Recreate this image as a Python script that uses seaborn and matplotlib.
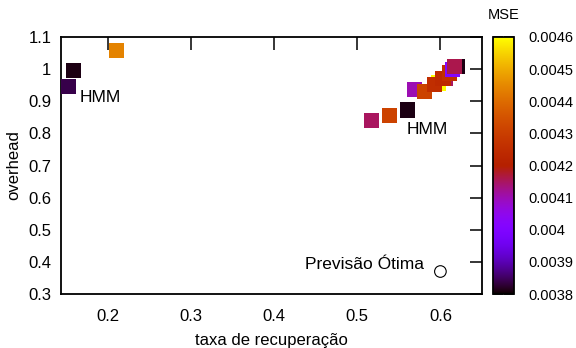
import numpy as np
import pandas as pd
import matplotlib
matplotlib.use("Agg")
import matplotlib.pyplot as plt
from matplotlib.colors import ListedColormap, Normalize
from matplotlib.cm import ScalarMappable
from matplotlib.ticker import FuncFormatter
import seaborn as sns

# Recovery rate / overhead / MSE for each configuration (drawn in this order)
taxa = [0.159, 0.153, 0.211,
        0.517, 0.539, 0.560, 0.569, 0.581, 0.598, 0.593,
        0.606, 0.603, 0.611, 0.615, 0.621, 0.617]
overhead = [0.996, 0.946, 1.057,
            0.839, 0.856, 0.873, 0.937, 0.931, 0.957, 0.953,
            0.971, 0.971, 0.988, 0.998, 1.009, 1.009]
mse = [0.00381, 0.00384, 0.00444,
       0.00415, 0.00431, 0.00381, 0.00410, 0.00431, 0.00460, 0.00425,
       0.00415, 0.00424, 0.00426, 0.00401, 0.00381, 0.00416]

# Optimal forecast reference point
otima_x = [0.600]
otima_y = [0.370]

x_ticks = [0.2, 0.3, 0.4, 0.5, 0.6]
y_ticks = [0.3, 0.4, 0.5, 0.6, 0.7, 0.8, 0.9, 1.0, 1.1]
cb_ticks = [0.0038, 0.0039, 0.0040, 0.0041, 0.0042, 0.0043, 0.0044, 0.0045, 0.0046]

df = pd.DataFrame({"taxa": taxa, "overhead": overhead, "mse": mse})

sns.set_style("white")
plt.rcParams["font.family"] = ["Liberation Sans", "DejaVu Sans"]
plt.rcParams["text.color"] = "black"
plt.rcParams["axes.labelcolor"] = "black"

# gnuplot default pm3d palette (rgbformulae 7,5,15)
g = np.linspace(0, 1, 256)
pal = np.stack([np.sqrt(g), g ** 3, np.clip(np.sin(2 * np.pi * g), 0, 1)], axis=1)
cmap = ListedColormap(pal)
norm = Normalize(vmin=0.0038, vmax=0.0046)

fig = plt.figure(figsize=(5.76, 3.48), dpi=100)
ax = fig.add_axes([61 / 576, 1 - 294 / 348, 421 / 576, 257 / 348])

sns.scatterplot(data=df, x="taxa", y="overhead", hue="mse", palette=cmap,
                hue_norm=norm, marker="s", s=120, linewidth=0, legend=False,
                ax=ax, zorder=3)
sns.scatterplot(x=otima_x, y=otima_y, marker="o", s=70, facecolor="none",
                edgecolor="black", linewidth=0.8, ax=ax, zorder=3)

ax.text(0.166, 0.912, "HMM", fontsize=12.5, va="center", ha="left")
ax.text(0.559, 0.811, "HMM", fontsize=12.5, va="center", ha="left")
ax.text(0.580, 0.392, "Previsão Ótima", fontsize=12.5, va="center", ha="right")

ax.set_xlim(0.144, 0.65)
ax.set_ylim(0.3, 1.1)
ax.set_xticks(x_ticks)
ax.set_yticks(y_ticks)
ax.xaxis.set_major_formatter(FuncFormatter(lambda v, p: f"{v:g}"))
ax.yaxis.set_major_formatter(FuncFormatter(lambda v, p: f"{v:g}"))
ax.tick_params(direction="in", top=True, right=True, length=9, width=1.1,
               labelsize=12, pad=7, colors="black")
ax.tick_params(axis="x", pad=11)
for sp in ax.spines.values():
    sp.set_visible(True)
    sp.set_color("black")
    sp.set_linewidth(1.3)
ax.set_xlabel("taxa de recuperação", fontsize=12, labelpad=6)
ax.set_ylabel("overhead", fontsize=12, labelpad=5)

cax = fig.add_axes([493 / 576, 1 - 294 / 348, 21 / 576, 257 / 348])
cb = fig.colorbar(ScalarMappable(norm=norm, cmap=cmap), cax=cax)
cb.set_ticks(cb_ticks)
cb.ax.yaxis.set_major_formatter(FuncFormatter(lambda v, p: f"{v:g}"))
cb.outline.set_linewidth(1.3)
cb.outline.set_edgecolor("black")
cax.tick_params(direction="in", left=True, right=True, length=7, width=1.1,
                labelsize=10.5, pad=10, colors="black")
cax.set_title("MSE", fontsize=10.5, pad=13)

fig.savefig("out.png", dpi=100)
